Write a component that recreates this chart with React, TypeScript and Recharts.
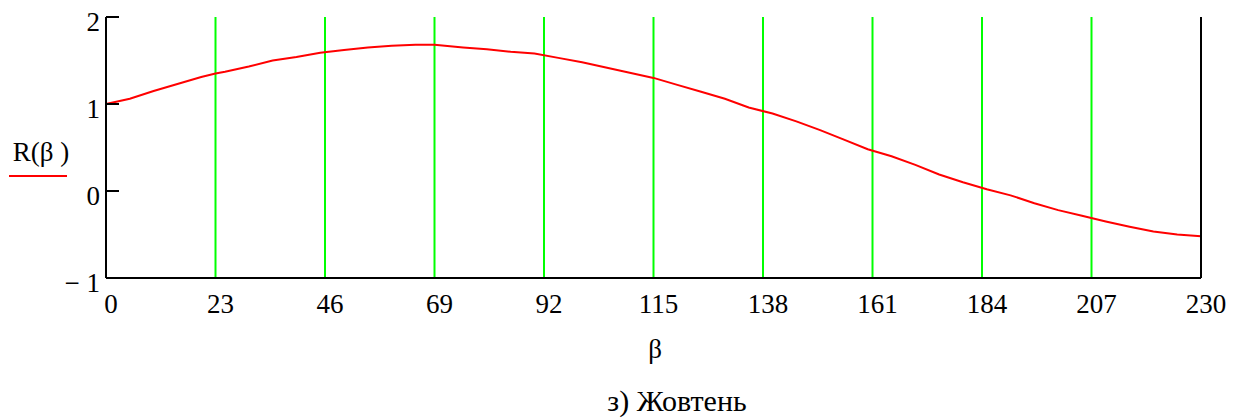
import React from "react";
import { LineChart, Line, XAxis, YAxis, CartesianGrid } from "recharts";

const betaValues = [0, 5, 10, 15, 20, 23, 25, 30, 35, 40, 45, 50, 55, 60, 65, 69, 75, 80, 85, 90, 95, 100, 105, 110, 115, 120, 125, 130, 135, 140, 145, 150, 155, 160, 165, 170, 175, 180, 185, 190, 195, 200, 205, 210, 215, 220, 225, 230];
const rValues = [1.0, 1.06, 1.15, 1.23, 1.31, 1.35, 1.37, 1.43, 1.5, 1.54, 1.59, 1.62, 1.65, 1.67, 1.68, 1.68, 1.65, 1.63, 1.6, 1.58, 1.53, 1.48, 1.42, 1.36, 1.3, 1.22, 1.14, 1.06, 0.96, 0.89, 0.8, 0.7, 0.59, 0.48, 0.4, 0.3, 0.19, 0.1, 0.02, -0.05, -0.14, -0.22, -0.285, -0.35, -0.41, -0.465, -0.5, -0.52];
const xTicks = [0, 23, 46, 69, 92, 115, 138, 161, 184, 207, 230];
const yTicks = [-1, 0, 1, 2];
const xLabel = "β";
const yLabel = "R(β )";
const title = "з) Жовтень";

const data = betaValues.map((b, i) => ({ beta: b, r: rValues[i] }));

const FONT = '"Liberation Serif", "Times New Roman", serif';

const fmtY = (v: number) => (v < 0 ? "− " + Math.abs(v) : String(v));

const LeftTick = (props: any) => {
  const { x, y, payload } = props;
  return (
    <g>
      <line x1={x} x2={x + 13} y1={y} y2={y} stroke="#000" strokeWidth={2} />
      <text x={x - 6} y={y + 14} textAnchor="end" fontFamily={FONT} fontSize={27} fill="#000">
        {fmtY(payload.value)}
      </text>
    </g>
  );
};

const RightTick = (props: any) => {
  const { x, y } = props;
  return <line x1={x - 15} x2={x} y1={y} y2={y} stroke="#000" strokeWidth={2} />;
};

const BottomTick = (props: any) => {
  const { x, y, payload } = props;
  return (
    <text x={x + 5} y={y + 35} textAnchor="middle" fontFamily={FONT} fontSize={27} fill="#000">
      {String(payload.value)}
    </text>
  );
};

export default function App() {
  return (
    <div style={{ position: "absolute", left: 0, top: 0, width: 1246, height: 418, background: "#fff" }}>
      <LineChart width={1246} height={418} data={data} margin={{ top: 17, right: 0, bottom: 0, left: 0 }}>
        <CartesianGrid horizontal={false} stroke="#00ff00" strokeWidth={2} />
        <XAxis
          dataKey="beta"
          type="number"
          domain={[0, 230]}
          ticks={xTicks}
          interval={0}
          height={140}
          tickSize={0}
          tickMargin={0}
          tickLine={false}
          axisLine={{ stroke: "#000", strokeWidth: 2 }}
          tick={<BottomTick />}
        />
        <XAxis
          xAxisId="top"
          orientation="top"
          dataKey="beta"
          type="number"
          domain={[0, 230]}
          height={0}
          tick={false}
          tickLine={false}
          axisLine={{ stroke: "#000", strokeWidth: 2 }}
        />
        <YAxis
          type="number"
          domain={[-1, 2]}
          ticks={yTicks}
          interval={0}
          width={106}
          tickSize={0}
          tickMargin={0}
          tickLine={false}
          axisLine={{ stroke: "#000", strokeWidth: 2 }}
          tick={<LeftTick />}
        />
        <YAxis
          yAxisId="right"
          orientation="right"
          type="number"
          domain={[-1, 2]}
          ticks={yTicks}
          interval={0}
          width={45}
          tickSize={0}
          tickMargin={0}
          tickLine={false}
          axisLine={{ stroke: "#000", strokeWidth: 2 }}
          tick={<RightTick />}
        />
        <Line
          dataKey="r"
          type="linear"
          stroke="#ff0000"
          strokeWidth={2}
          dot={false}
          activeDot={false}
          isAnimationActive={false}
        />
      </LineChart>
      <div style={{ position: "absolute", left: 6, top: 139, width: 70, textAlign: "center", fontFamily: FONT, fontSize: 27, lineHeight: "27px", whiteSpace: "nowrap" }}>
        {yLabel}
      </div>
      <div style={{ position: "absolute", left: 9, top: 175, width: 58, height: 2, background: "#ff0000" }} />
      <div style={{ position: "absolute", left: 555, top: 336, width: 200, textAlign: "center", fontFamily: FONT, fontSize: 27, lineHeight: "27px" }}>
        {xLabel}
      </div>
      <div style={{ position: "absolute", left: 527, top: 386, width: 300, textAlign: "center", fontFamily: FONT, fontSize: 30, lineHeight: "30px", whiteSpace: "nowrap" }}>
        {title}
      </div>
    </div>
  );
}
